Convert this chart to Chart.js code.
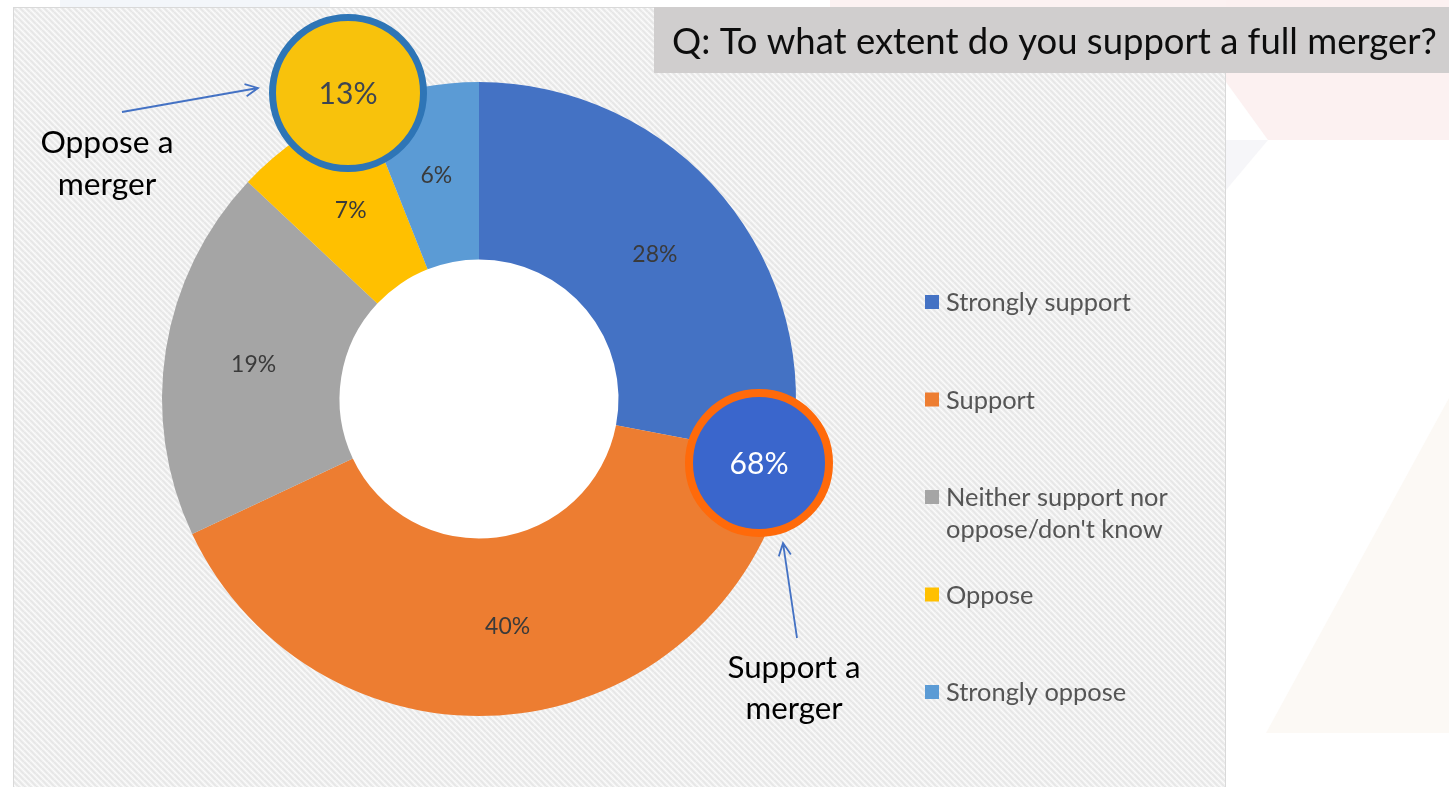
<!DOCTYPE html>
<html>
<head>
<meta charset="utf-8">
<title>Full merger survey</title>
<script src="https://cdn.jsdelivr.net/npm/chart.js@4.4.1/dist/chart.umd.min.js"></script>
<style>
  html, body { margin: 0; padding: 0; background: #ffffff; overflow: hidden; }
  #survey-chart { display: block; }
</style>
</head>
<body>
<canvas id="survey-chart" width="1449" height="787"></canvas>
<script>
// Survey answers, in the order they run clockwise from 12 o'clock
const categories = [
    'Strongly support',
    'Support',
    ['Neither support nor', "oppose/don't know"],
    'Oppose',
    'Strongly oppose'
];
const shares = [28, 40, 19, 7, 6];
const sliceColors = ['#4472C4', '#ED7D31', '#A5A5A5', '#FFC000', '#5B9BD5'];

// Answers that get summed into the two callout bubbles
const supportGroup = [0, 1];
const opposeGroup = [3, 4];

const questionText = 'Q: To what extent do you support a full merger?';
const supportCaption = ['Support a', 'merger'];
const opposeCaption = ['Oppose a', 'merger'];

const FONT = 'Lato, "Open Sans", sans-serif';

// Font size that makes a string come out at a given pixel width
function fitSize(ctx, text, width, weight = 'normal') {
    ctx.font = `${weight} 100px ${FONT}`;
    return 100 * width / ctx.measureText(text).width;
}

function sumOf(indexes) {
    return indexes.reduce((total, i) => total + shares[i], 0);
}

// Diagonal hatch used behind the chart
function makeHatch(ctx) {
    const tile = document.createElement('canvas');
    tile.width = 6;
    tile.height = 6;
    const t = tile.getContext('2d');
    t.fillStyle = '#f2f2f2';
    t.fillRect(0, 0, 6, 6);
    t.strokeStyle = '#e5e5e5';
    t.lineWidth = 1.5;
    for (let k = -1; k <= 1; k++) {
        t.beginPath();
        t.moveTo(k * 6, 0);
        t.lineTo(k * 6 + 6, 6);
        t.stroke();
    }
    t.strokeStyle = '#fbfbfb';
    t.lineWidth = 1;
    for (let k = -1; k <= 1; k++) {
        t.beginPath();
        t.moveTo(k * 6 + 3, 0);
        t.lineTo(k * 6 + 9, 6);
        t.stroke();
    }
    return ctx.createPattern(tile, 'repeat');
}

function polygon(ctx, points, color) {
    ctx.fillStyle = color;
    ctx.beginPath();
    points.forEach(([x, y], i) => (i ? ctx.lineTo(x, y) : ctx.moveTo(x, y)));
    ctx.closePath();
    ctx.fill();
}

const backdropPlugin = {
    id: 'backdrop',
    beforeDraw(chart) {
        const ctx = chart.ctx;
        ctx.save();
        ctx.fillStyle = '#ffffff';
        ctx.fillRect(0, 0, chart.width, chart.height);

        // faint slide decoration around the panel
        polygon(ctx, [[60, 0], [330, 0], [330, 7], [60, 7]], '#f3f6fa');
        polygon(ctx, [[830, 0], [1449, 0], [1449, 7], [830, 7]], '#fcf2f2');
        polygon(ctx, [[1226, 0], [1449, 0], [1449, 140], [1268, 140], [1226, 82]], '#fcf1f1');
        polygon(ctx, [[1226, 140], [1268, 140], [1226, 190]], '#f6f6f9');
        polygon(ctx, [[1266, 733], [1449, 733], [1449, 398]], '#fcf9f5');

        // hatched panel
        ctx.fillStyle = makeHatch(ctx);
        ctx.fillRect(13, 7, 1213, 790);
        ctx.strokeStyle = '#d9d9d9';
        ctx.lineWidth = 1;
        ctx.strokeRect(13.5, 7.5, 1212, 790);
        ctx.restore();
    },
    beforeDatasetsDraw(chart) {
        // the ring's hole is plain white, not hatched
        const arc = chart.getDatasetMeta(0).data[0];
        if (!arc) return;
        const p = arc.getProps(['x', 'y', 'innerRadius'], true);
        const ctx = chart.ctx;
        ctx.save();
        ctx.fillStyle = '#ffffff';
        ctx.beginPath();
        ctx.arc(p.x, p.y, p.innerRadius + 1, 0, Math.PI * 2);
        ctx.fill();
        ctx.restore();
    }
};

// Percentage written in the middle of each ring segment
const sliceLabelPlugin = {
    id: 'sliceLabels',
    afterDatasetsDraw(chart) {
        const ctx = chart.ctx;
        const meta = chart.getDatasetMeta(0);
        const size = fitSize(ctx, '28%', 45);
        ctx.save();
        ctx.font = `${size}px ${FONT}`;
        ctx.fillStyle = '#3a3a3a';
        ctx.textAlign = 'center';
        ctx.textBaseline = 'alphabetic';
        meta.data.forEach((arc, i) => {
            const p = arc.getProps(['x', 'y', 'startAngle', 'endAngle', 'innerRadius', 'outerRadius'], true);
            const mid = (p.startAngle + p.endAngle) / 2;
            const r = (p.innerRadius + p.outerRadius) / 2;
            const x = p.x + Math.cos(mid) * r;
            const y = p.y + Math.sin(mid) * r;
            ctx.fillText(`${chart.data.datasets[0].data[i]}%`, x, y + size * 0.36);
        });
        ctx.restore();
    }
};

function drawArrow(ctx, x0, y0, x1, y1) {
    const ang = Math.atan2(y1 - y0, x1 - x0);
    const wing = 14;
    ctx.beginPath();
    ctx.moveTo(x0, y0);
    ctx.lineTo(x1, y1);
    ctx.moveTo(x1 - wing * Math.cos(ang - 0.45), y1 - wing * Math.sin(ang - 0.45));
    ctx.lineTo(x1, y1);
    ctx.lineTo(x1 - wing * Math.cos(ang + 0.45), y1 - wing * Math.sin(ang + 0.45));
    ctx.stroke();
}

function drawBubble(ctx, x, y, r, fill, ring, ringWidth, text, textColor) {
    ctx.beginPath();
    ctx.arc(x, y, r, 0, Math.PI * 2);
    ctx.fillStyle = fill;
    ctx.fill();
    ctx.lineWidth = ringWidth;
    ctx.strokeStyle = ring;
    ctx.stroke();
    const size = fitSize(ctx, text, 59);
    ctx.font = `${size}px ${FONT}`;
    ctx.fillStyle = textColor;
    ctx.textAlign = 'center';
    ctx.fillText(text, x, y + size * 0.36);
}

function drawCaption(ctx, lines, cx, firstBaseline, lineGap) {
    const size = fitSize(ctx, lines[0], 133);
    ctx.font = `${size}px ${FONT}`;
    ctx.fillStyle = '#000000';
    ctx.textAlign = 'center';
    lines.forEach((line, i) => ctx.fillText(line, cx, firstBaseline + i * lineGap));
}

const overlayPlugin = {
    id: 'overlay',
    afterDraw(chart) {
        const ctx = chart.ctx;
        const dataset = chart.data.datasets[0];
        ctx.save();
        ctx.textBaseline = 'alphabetic';

        // question banner
        ctx.fillStyle = '#d0cece';
        ctx.fillRect(654, 7, 795, 66);
        const qSize = fitSize(ctx, questionText, 765);
        ctx.font = `${qSize}px ${FONT}`;
        ctx.fillStyle = '#0d0d0d';
        ctx.textAlign = 'left';
        ctx.fillText(questionText, 672, 54);

        // legend on the right
        const legendSize = fitSize(ctx, 'Strongly support', 185);
        ctx.font = `${legendSize}px ${FONT}`;
        ctx.textAlign = 'left';
        chart.data.labels.forEach((label, i) => {
            const rowY = 302 + i * 97.5;
            ctx.fillStyle = dataset.backgroundColor[i];
            ctx.fillRect(925, rowY - 7, 14, 14);
            ctx.fillStyle = '#555555';
            const lines = Array.isArray(label) ? label : [label];
            lines.forEach((line, j) => ctx.fillText(line, 946, rowY + legendSize * 0.36 + j * 32));
        });

        // arrows
        ctx.strokeStyle = '#4472C4';
        ctx.lineWidth = 1.8;
        drawArrow(ctx, 122, 112, 258, 88);
        drawArrow(ctx, 797, 638, 783, 543);

        // combined totals
        drawBubble(ctx, 348, 93, 75.5, '#F8C20C', '#2E75B6', 7,
            `${sumOf(opposeGroup)}%`, '#3d4552');
        drawBubble(ctx, 759, 463, 70, '#3A66CC', '#FF6A0A', 8,
            `${sumOf(supportGroup)}%`, '#ffffff');

        drawCaption(ctx, opposeCaption, 107, 153, 42);
        drawCaption(ctx, supportCaption, 794, 678, 41);
        ctx.restore();
    }
};

const ctx = document.getElementById('survey-chart').getContext('2d');
const surveyChart = new Chart(ctx, {
    type: 'doughnut',
    data: {
        labels: categories,
        datasets: [{
            data: shares,
            backgroundColor: sliceColors,
            borderWidth: 0
        }]
    },
    options: {
        responsive: false,
        devicePixelRatio: 1,
        animation: false,
        cutout: '44%',
        layout: {
            padding: { left: 162, right: 653, top: 82, bottom: 71 }
        },
        plugins: {
            legend: { display: false },
            tooltip: { enabled: false }
        }
    },
    plugins: [backdropPlugin, sliceLabelPlugin, overlayPlugin]
});
</script>
</body>
</html>
